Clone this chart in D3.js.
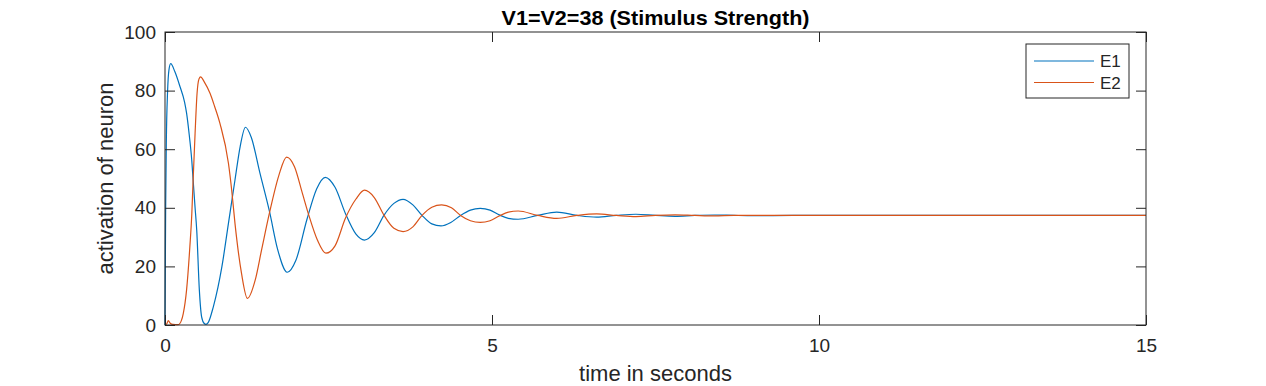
<!DOCTYPE html>
<html>
<head>
<meta charset="utf-8">
<script src="https://cdn.jsdelivr.net/npm/d3@7"></script>
<style>
  html, body { margin: 0; padding: 0; background: #fff; }
  text { font-family: 'Liberation Sans', Arial, sans-serif; fill: #262626; }
</style>
</head>
<body>
<svg id="chart"></svg>
<script>
// data (time in s, activation)
var E1_T = [0, 0.01, 0.02, 0.04, 0.06, 0.087, 0.15, 0.23, 0.3, 0.33, 0.37, 0.41, 0.43, 0.46, 0.485,
  0.525, 0.56, 0.6, 0.627, 0.66, 0.74, 0.87, 0.97, 1.07, 1.15, 1.23, 1.32, 1.45, 1.6, 1.72, 1.87,
  2.0, 2.17, 2.32, 2.45, 2.6, 2.76, 2.92, 3.05, 3.2, 3.35, 3.5, 3.64, 3.79, 3.93, 4.08, 4.22, 4.37,
  4.52, 4.67, 4.82, 4.97, 5.11, 5.25, 5.4, 5.7, 5.99, 6.3, 6.6, 6.9, 7.2, 7.5, 7.8, 8.1, 8.4, 8.7,
  9.0, 9.6, 15]
var E1_V = [0, 40, 62, 80, 87, 89.2, 86.5, 81.3, 76, 72.3, 65, 56, 49.5, 40, 32.4,
  12, 2.8, 0.5, 0.2, 0.8, 6.3, 19.9, 34.7, 49.5, 61, 67.5, 64, 52, 38.5, 26, 18,
  22, 36, 46.5, 50.4, 47, 38, 31, 29, 31.5, 37.5, 41.5, 42.9, 41, 37.4, 34.5, 33.8, 35,
  37.4, 39.2, 39.8, 39.2, 37.6, 36.4, 36.1, 37.4, 38.5, 37.4, 36.8, 37.4, 37.8, 37.4, 37.1, 37.4, 37.55, 37.4,
  37.3, 37.4, 37.4]

var E2_T = [0, 0.03, 0.05, 0.08, 0.12, 0.2, 0.25, 0.28, 0.33, 0.38, 0.41, 0.43, 0.46, 0.49, 0.52,
  0.545, 0.6, 0.69, 0.76, 0.84, 0.97, 1.02, 1.07, 1.17, 1.26, 1.38, 1.48, 1.6, 1.74, 1.86, 1.98,
  2.1, 2.2, 2.33, 2.46, 2.6, 2.76, 2.92, 3.05, 3.2, 3.35, 3.5, 3.64, 3.79, 3.93, 4.08, 4.23, 4.38,
  4.52, 4.67, 4.82, 4.97, 5.11, 5.25, 5.4, 5.7, 5.99, 6.3, 6.6, 6.9, 7.2, 7.5, 7.8, 8.1, 8.4, 8.7, 15]
var E2_V = [0, 0.5, 1.5, 0.6, 0.2, 0.1, 1.5, 4, 12, 26.7, 38, 49.5, 65.4, 79, 84,
  84.7, 83, 79, 74.5, 68.8, 55.2, 46, 34.7, 17.6, 9.1, 15.4, 26, 38.5, 51, 57.3, 54,
  45, 37.4, 29, 24.5, 27, 36.5, 43, 46, 43.5, 37.4, 33, 31.9, 33.5, 37.4, 40.2, 41, 40,
  37.4, 35.6, 35, 35.6, 37.2, 38.5, 38.9, 37.4, 36.4, 37.4, 37.9, 37.4, 37.0, 37.4, 37.6, 37.4, 37.25, 37.4, 37.4]

var X_TICKS = [0, 5, 10, 15]
var Y_TICKS = [0, 20, 40, 60, 80, 100]
var SERIES = ['E1', 'E2']

;(function () {
  var WIDTH = 1266
  var HEIGHT = 386
  var AXIS_COLOR = '#262626'
  var COLORS = ['#0072BD', '#D95319']
  var TICK_LEN = 10
  var margin = { left: 165, right: 120, top: 32, bottom: 61 }

  var svg = d3.select('#chart')
    .attr('width', WIDTH)
    .attr('height', HEIGHT)

  var x = d3.scaleLinear().domain([0, 15]).range([margin.left, WIDTH - margin.right])
  var y = d3.scaleLinear().domain([0, 100]).range([HEIGHT - margin.bottom, margin.top])

  var series = [
    { name: SERIES[0], pts: d3.zip(E1_T, E1_V) },
    { name: SERIES[1], pts: d3.zip(E2_T, E2_V) }
  ]

  var line = d3.line()
    .x(function (d) { return x(d[0]) })
    .y(function (d) { return y(d[1]) })
    .curve(d3.curveMonotoneX)

  // curves
  svg.append('g')
    .selectAll('path')
    .data(series)
    .enter()
    .append('path')
    .attr('d', function (d) { return line(d.pts) })
    .attr('fill', 'none')
    .attr('stroke', function (d, i) { return COLORS[i] })
    .attr('stroke-width', 1.2)

  // box
  var x0 = x.range()[0], x1 = x.range()[1]
  var y0 = y.range()[0], y1 = y.range()[1]
  svg.append('rect')
    .attr('x', x0).attr('y', y1)
    .attr('width', x1 - x0).attr('height', y0 - y1)
    .attr('fill', 'none')
    .attr('stroke', AXIS_COLOR)
    .attr('stroke-width', 1)

  // axes (ticks inside, MATLAB style)
  var xAxis = d3.axisBottom(x).tickValues(X_TICKS).tickSize(-TICK_LEN).tickPadding(14)
  var yAxis = d3.axisLeft(y).tickValues(Y_TICKS).tickSize(-TICK_LEN).tickPadding(9)

  var gx = svg.append('g').attr('transform', 'translate(0,' + y0 + ')').call(xAxis)
  var gy = svg.append('g').attr('transform', 'translate(' + x0 + ',0)').call(yAxis)
  ;[gx, gy].forEach(function (g) {
    g.select('.domain').remove()
    g.selectAll('line').attr('stroke', AXIS_COLOR)
    g.selectAll('text').attr('font-size', 19).attr('font-family', null).style('fill', AXIS_COLOR)
  })

  // mirrored ticks on top and right
  svg.append('g').attr('transform', 'translate(0,' + y1 + ')')
    .call(d3.axisTop(x).tickValues(X_TICKS).tickSize(-TICK_LEN).tickFormat(''))
    .call(function (g) { g.select('.domain').remove(); g.selectAll('line').attr('stroke', AXIS_COLOR) })
  svg.append('g').attr('transform', 'translate(' + x1 + ',0)')
    .call(d3.axisRight(y).tickValues(Y_TICKS).tickSize(-TICK_LEN).tickFormat(''))
    .call(function (g) { g.select('.domain').remove(); g.selectAll('line').attr('stroke', AXIS_COLOR) })

  // labels
  svg.append('text')
    .attr('x', (x0 + x1) / 2).attr('y', 381)
    .attr('text-anchor', 'middle')
    .attr('font-size', 22)
    .text('time in seconds')

  svg.append('text')
    .attr('transform', 'translate(113,' + ((y0 + y1) / 2) + ') rotate(-90)')
    .attr('text-anchor', 'middle')
    .attr('font-size', 22)
    .text('activation of neuron')

  svg.append('text')
    .attr('x', (x0 + x1) / 2).attr('y', 25)
    .attr('text-anchor', 'middle')
    .attr('font-size', 21)
    .attr('font-weight', 'bold')
    .attr('textLength', 308)
    .attr('lengthAdjust', 'spacingAndGlyphs')
    .style('fill', '#000')
    .text('V1=V2=38 (Stimulus Strength)')

  // legend
  var legend = svg.append('g').attr('transform', 'translate(1026,44)')
  legend.append('rect')
    .attr('width', 103).attr('height', 54)
    .attr('fill', '#fff')
    .attr('stroke', AXIS_COLOR)
    .attr('stroke-width', 1)
  var item = legend.selectAll('g.item')
    .data(series)
    .enter()
    .append('g')
    .attr('class', 'item')
    .attr('transform', function (d, i) { return 'translate(0,' + (17 + i * 21.5) + ')' })
  item.append('line')
    .attr('x1', 8).attr('x2', 68)
    .attr('stroke', function (d, i) { return COLORS[i] })
    .attr('stroke-width', 1.2)
  item.append('text')
    .attr('x', 74).attr('y', 6)
    .attr('font-size', 17)
    .text(function (d) { return d.name })
})()
</script>
</body>
</html>
